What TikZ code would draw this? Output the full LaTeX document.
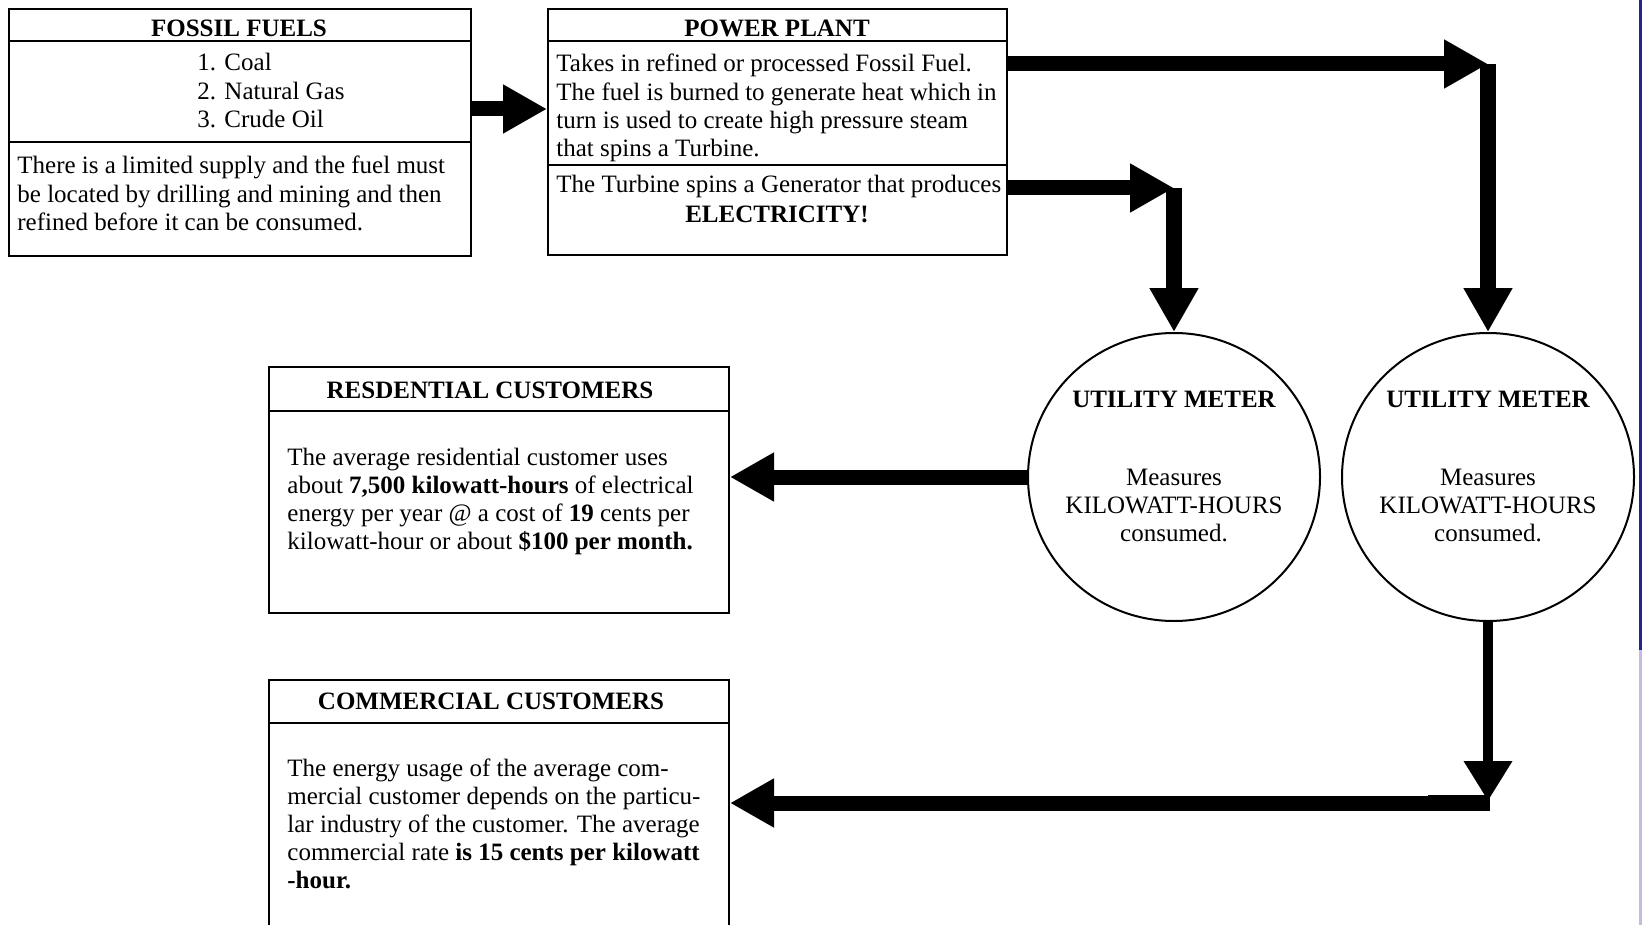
\documentclass[tikz,border=0pt]{standalone}
\usepackage{fontspec}
\setmainfont{Liberation Serif}
\usetikzlibrary{arrows.meta,shapes.geometric}
\definecolor{stripblue}{RGB}{30,40,140}
\definecolor{striplav}{RGB}{200,185,225}
\begin{document}
\begin{tikzpicture}[x=0.5pt,y=-0.5pt,
  box/.style={draw,line width=1pt,inner sep=0pt,anchor=north west},
  txt/.style={inner sep=0pt,font=\fontsize{12.5}{14.1}\selectfont},
  ttl/.style={inner sep=0pt,font=\fontsize{12.5}{14.1}\selectfont\bfseries,anchor=base},
  body/.style={txt,align=left,anchor=base west},
  mtxt/.style={txt,align=center,anchor=base},
  meter/.style={draw,ellipse,line width=1pt,minimum width=146pt,minimum height=144pt,inner sep=0pt},
  divider/.style={line width=1pt},
  bigarrow/.style={line width=7.5pt,-{Triangle[length=22pt,width=23pt]}},
  vertarrow/.style={line width=8pt,-{Triangle[length=22pt,width=23pt]}},
  thinarrow/.style={line width=5pt,-{Triangle[length=20pt,width=23pt]}}
]
\useasboundingbox (0,0) rectangle (1642,925);
\clip (0,0) rectangle (1642,925);
\fill[white] (0,0) rectangle (1642,925);
\fill[stripblue] (1639,0) rectangle (1642,650);
\fill[striplav] (1639,650) rectangle (1642,925);

% Fossil fuels
\node[box,minimum width=231pt,minimum height=123.5pt] (ff) at (8,8) {};
\draw[divider] (ff.west |- 0,41) -- (ff.east |- 0,41);
\draw[divider] (ff.west |- 0,142) -- (ff.east |- 0,142);
\node[ttl] (fft) at (239,37) {FOSSIL FUELS};
\node[body] (ffl) at (197,127.4) {1. Coal\\2. Natural Gas\\3. Crude Oil};
\node[body] (ffd) at (17,230.4) {There is a limited supply and the fuel must\\be located by drilling and mining and then\\refined before it can be consumed.};

% Power plant
\node[box,minimum width=229.5pt,minimum height=123pt] (pp) at (547,8) {};
\draw[divider] (pp.west |- 0,41) -- (pp.east |- 0,41);
\draw[divider] (pp.west |- 0,165) -- (pp.east |- 0,165);
\node[ttl] (ppt) at (777,37) {POWER PLANT};
\node[body] (ppd) at (556,156.6) {Takes in refined or processed Fossil Fuel.\\The fuel is burned to generate heat which in\\turn is used to create high pressure steam\\that spins a Turbine.};
\node[body] (ppg) at (556,193) {The Turbine spins a Generator that produces};
\node[ttl] (ppe) at (777,222) {ELECTRICITY!};

% Residential
\node[box,minimum width=230pt,minimum height=123pt] (res) at (268,366) {};
\draw[divider] (res.west |- 0,411) -- (res.east |- 0,411);
\node[ttl] (rest) at (490,398) {RESDENTIAL CUSTOMERS};
\node[body] (resd) at (287,549.6) {The average residential customer uses\\about \textbf{7,500 kilowatt-hours} of electrical\\energy per year @ a cost of \textbf{19} cents per\\kilowatt-hour or about \textbf{\$100 per month.}};

% Commercial
\node[box,minimum width=230pt,minimum height=126pt] (com) at (268,679) {};
\draw[divider] (com.west |- 0,723) -- (com.east |- 0,723);
\node[ttl] (comt) at (491,709) {COMMERCIAL CUSTOMERS};
\node[body] (comd) at (287,888.8) {The energy usage of the average com-\\mercial customer depends on the particu-\\lar industry of the customer. The average\\commercial rate \textbf{is 15 cents per kilowatt}\\\textbf{-hour.}};

% Meters
\node[meter] (m1) at (1174,477) {};
\node[meter] (m2) at (1488,477) {};
\node[ttl] (m1t) at (1174,407) {UTILITY METER};
\node[mtxt] (m1b) at (1174,541.4) {Measures\\KILOWATT-HOURS\\consumed.};
\node[ttl] (m2t) at (1488,407) {UTILITY METER};
\node[mtxt] (m2b) at (1488,541.4) {Measures\\KILOWATT-HOURS\\consumed.};

% Connectors
\coordinate (c1) at (m2.north |- 0,64);
\coordinate (c2) at (m1.north |- 0,188);
\coordinate (c3) at (m2.south |- 0,803);
\draw[bigarrow] (ff.east |- 0,109) -- (pp.west |- 0,109);
\draw[bigarrow] (pp.east |- c1) -- (c1);
\draw[vertarrow] (c1) -- (m2.north);
\draw[bigarrow] (pp.east |- c2) -- (c2);
\draw[vertarrow] (c2) -- (m1.north);
\draw[bigarrow] (m1.west) -- (res.east |- m1.west);
\draw[thinarrow] (m2.south) -- ([yshift=1pt]c3);
\draw[line width=8pt] ([xshift=1pt]c3) -- ([xshift=-30pt]c3);
\draw[bigarrow] ([xshift=-29pt]c3) -- (com.east |- c3);
\end{tikzpicture}
\end{document}
